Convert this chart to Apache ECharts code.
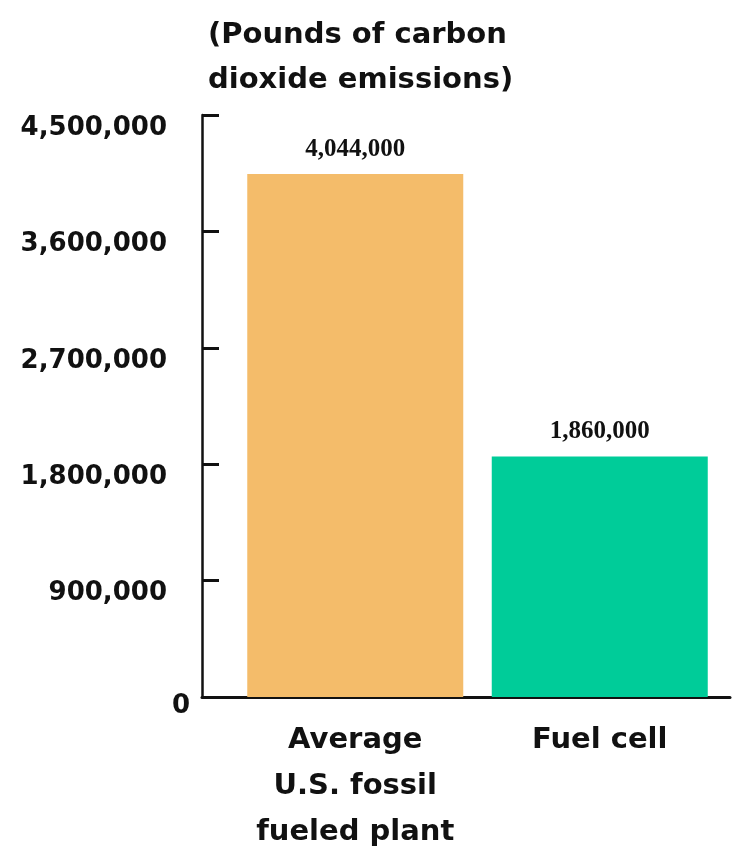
<!DOCTYPE html>
<html>
<head>
<meta charset="utf-8">
<script src="https://cdn.jsdelivr.net/npm/echarts@6/dist/echarts.min.js"></script>
<style>
html,body{margin:0;padding:0;background:#fff;}
#chart{width:733px;height:849px;}
</style>
</head>
<body>
<div id="chart"></div>
<script>
var categories = ['Average\nU.S. fossil\nfueled plant', 'Fuel cell'];
var emissions = [4044000, 1860000];
var barColors = ['#F4BC6A', '#00CC99'];
var titleText = '(Pounds of carbon\ndioxide emissions)';
var yMin = 0, yMax = 4500000, yStep = 900000;

function fmt(v) { return String(v).replace(/\B(?=(\d{3})+(?!\d))/g, ','); }

var chart = echarts.init(document.getElementById('chart'));
chart.setOption({
  animation: false,
  backgroundColor: '#fff',
  title: {
    text: titleText,
    left: 203, top: 8,
    textStyle: { fontFamily: 'DejaVu Sans', fontWeight: 'bold', fontSize: 29, lineHeight: 45, color: '#111' }
  },
  grid: [
    { left: 233, right: 11, top: 115, bottom: 152, outerBoundsMode: 'none', containLabel: false },
    { left: 202, right: 3, top: 115, bottom: 152, outerBoundsMode: 'none', containLabel: false }
  ],
  xAxis: [
    {
      type: 'category', gridIndex: 0, data: categories,
      axisLine: { show: false }, axisTick: { show: false },
      axisLabel: { margin: 20, color: '#111', fontFamily: 'DejaVu Sans', fontWeight: 'bold', fontSize: 29, lineHeight: 46, interval: 0 }
    },
    {
      type: 'value', gridIndex: 1, min: 0, max: 1,
      axisLine: { show: true, onZero: false, lineStyle: { color: '#111', width: 3 } },
      axisTick: { show: false }, axisLabel: { show: false }, splitLine: { show: false }
    }
  ],
  yAxis: [
    {
      type: 'value', gridIndex: 0, min: yMin, max: yMax, interval: yStep, offset: 31,
      axisLine: { show: true, lineStyle: { color: '#111', width: 2.5 } },
      axisTick: { show: true, inside: true, length: 17, lineStyle: { color: '#111', width: 3 } },
      splitLine: { show: false },
      axisLabel: {
        margin: 12, verticalAlign: 'top', color: '#111',
        fontFamily: 'DejaVu Sans', fontWeight: 'bold', fontSize: 26,
        formatter: function (v) { return v === 0 ? '{z|0}' : '{n|' + fmt(v) + '}'; },
        rich: {
          z: { fontFamily: 'DejaVu Sans', fontWeight: 'bold', fontSize: 26, color: '#111', padding: [-4, 0, 0, 0] },
          n: { fontFamily: 'DejaVu Sans', fontWeight: 'bold', fontSize: 26, color: '#111', padding: [0, 23, 0, 0] }
        }
      }
    },
    { type: 'value', gridIndex: 1, show: false, min: 0, max: 1 }
  ],
  series: [{
    type: 'bar', xAxisIndex: 0, yAxisIndex: 0,
    data: emissions.map(function (v, i) { return { value: v, itemStyle: { color: barColors[i] } }; }),
    barWidth: 216,
    label: {
      show: true, position: 'top', distance: 12,
      formatter: function (p) { return fmt(p.value); },
      fontFamily: 'Liberation Serif', fontWeight: 'bold', fontSize: 25, color: '#111'
    }
  }]
});
</script>
</body>
</html>
